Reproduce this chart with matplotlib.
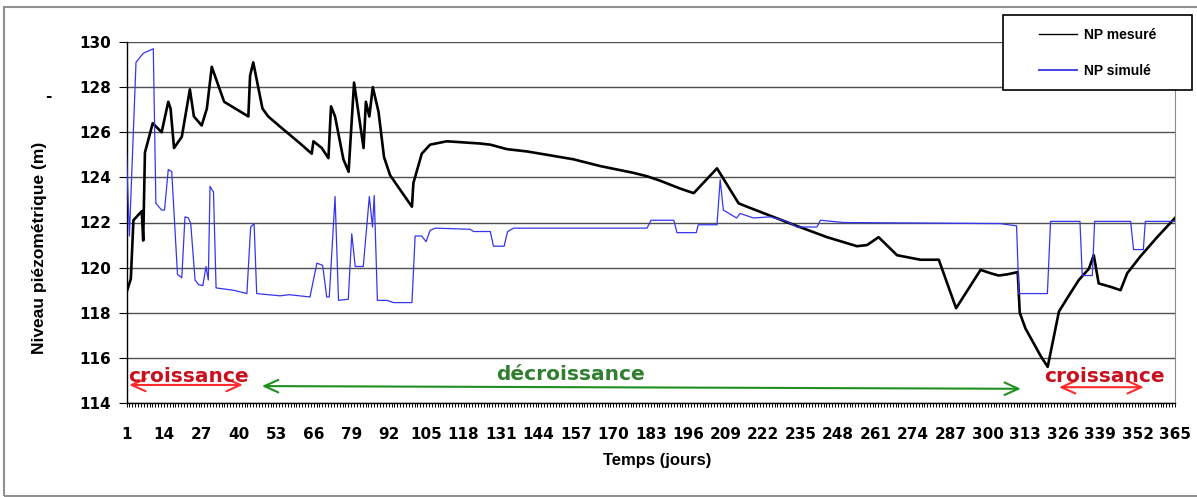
"""Niveau piézométrique mesuré vs simulé sur une année."""

import matplotlib
matplotlib.use("Agg")
import matplotlib.pyplot as plt
from matplotlib.lines import Line2D
from matplotlib.patches import Rectangle

W, H = 1197, 497

# --- data ---
days_mes = [1, 2.5, 3.4, 6.3, 6.8, 7.4, 10.1, 13.2, 15.5, 16.3,
            17.5, 20.2, 23, 24.4, 27.1, 28.9, 30.6, 31.7, 34.9, 43.3,
            43.9, 45.0, 48.2, 50.2, 54.3, 61.3, 65.3, 65.9, 68.8, 71.1,
            72.0, 73.4, 76.3, 78.1, 80.0, 83.3, 84.1, 85.3, 86.5, 88.5,
            90.4, 92.5, 96, 100.1, 100.6, 103.5, 106.4, 112.2, 123.8, 127.3,
            133.1, 140, 147, 156.2, 165.5, 177, 181.7, 186.3, 193.3, 197.9,
            206, 213.5, 216.4, 232.6, 244.2, 254.6, 258.1, 262.1, 268.5, 276.6,
            283, 289, 297.5, 301, 303.8, 306.7, 310.4, 311.1, 313.1, 318.3,
            320.8, 324.7, 327.6, 331.6, 335.1, 336.8, 338.5, 342.6, 346.1, 348.4,
            353, 358.8, 365]
np_mesure = [118.9, 119.5, 122.1, 122.5, 121.2, 125.1, 126.4, 126.0, 127.35, 127.05,
             125.3, 125.8, 127.9, 126.7, 126.3, 127.05, 128.9, 128.5, 127.35, 126.7,
             128.5, 129.1, 127.05, 126.7, 126.25, 125.5, 125.05, 125.6, 125.3, 124.85,
             127.15, 126.7, 124.8, 124.25, 128.2, 125.3, 127.35, 126.7, 128.0, 126.9,
             124.9, 124.1, 123.45, 122.7, 123.75, 125.05, 125.45, 125.6, 125.5, 125.45,
             125.25, 125.15, 125.0, 124.8, 124.5, 124.2, 124.05, 123.85, 123.5, 123.3,
             124.4, 122.85, 122.7, 121.9, 121.35, 120.95, 121.0, 121.35, 120.55, 120.35,
             120.35, 118.2, 119.9, 119.75, 119.65, 119.7, 119.8, 118.0, 117.3, 116.1,
             115.6, 118.05, 118.65, 119.45, 119.95, 120.55, 119.3, 119.15, 119.0, 119.75,
             120.5, 121.35, 122.2]

days_sim = [1, 2, 4.3, 6.8, 10.3, 11.2, 13.2, 14.2, 15.5, 16.7,
            18.7, 20.2, 21.3, 22.5, 23.3, 24.8, 26, 27.5, 28.6, 29.4,
            30, 31.2, 32.1, 38.1, 42.8, 44.1, 45.3, 46.2, 54.3, 57.5,
            64.7, 67.1, 69.1, 70.5, 71.4, 73.4, 74.6, 78.0, 79.2, 80.4,
            83.2, 85.3, 86.4, 87, 88.1, 91.4, 93.7, 100.1, 101.2, 103.5,
            105, 106.4, 108.2, 120.3, 121.5, 127.3, 128.4, 132.1, 133.3, 135.4,
            181.7, 183.1, 191, 192.1, 198.8, 199.5, 206, 207.1, 208.2, 212.8,
            214, 218.7, 224.5, 230.3, 233.8, 240.7, 241.9, 250, 304.4, 310.0,
            310.8, 320.7, 321.8, 332, 332.8, 336.3, 337.1, 349.6, 350.6, 354.0,
            354.7, 365]
np_simule = [125.1, 121.4, 129.1, 129.5, 129.7, 122.85, 122.55, 122.55, 124.35, 124.25,
             119.7, 119.55, 122.25, 122.2, 121.95, 119.45, 119.25, 119.2, 120.05, 119.45,
             123.6, 123.35, 119.1, 119.0, 118.85, 121.8, 121.95, 118.85, 118.75, 118.8,
             118.7, 120.2, 120.1, 118.7, 118.7, 123.15, 118.55, 118.6, 121.5, 120.05,
             120.05, 123.15, 121.8, 123.2, 118.55, 118.55, 118.45, 118.45, 121.4, 121.4,
             121.15, 121.65, 121.75, 121.7, 121.6, 121.6, 120.95, 120.95, 121.6, 121.75,
             121.75, 122.1, 122.1, 121.55, 121.55, 121.9, 121.9, 123.9, 122.55, 122.2,
             122.4, 122.2, 122.25, 122.05, 121.8, 121.8, 122.1, 122.0, 121.95, 121.85,
             118.85, 118.85, 122.05, 122.05, 119.65, 119.65, 122.05, 122.05, 120.8, 120.8,
             122.05, 122.05]

x_ticks = list(range(1, 366, 13))
y_ticks = list(range(114, 131, 2))

# phases: (label, start day, end day, arrow level, text day, text level)
phases = [
    ("croissance", 1.9, 41.4, 114.8, 114.8, 22.5, 114.93, "#c8101e", "#ff2a2a"),
    ("décroissance", 48.0, 311.5, 114.75, 114.63, 155.3, 115.02, "#2f7f2f", "#1f901f"),
    ("croissance", 324.7, 354.2, 114.7, 114.7, 340.5, 114.94, "#c8101e", "#ff2a2a"),
]

fig = plt.figure(figsize=(W / 100, H / 100), dpi=100)
ax = fig.add_axes([126.5 / W, 1 - 403 / H, (1175 - 126.5) / W, (403 - 42) / H])

ax.plot(days_mes, np_mesure, color="black", lw=1.9, zorder=3)
ax.plot(days_sim, np_simule, color="#3535ee", lw=0.9, zorder=4)

ax.set_xlim(1, 365)
ax.set_ylim(114, 130)
ax.set_xticks(x_ticks)
ax.set_xticks(range(1, 366), minor=True)
ax.set_yticks(y_ticks)

ax.yaxis.grid(True, color="#505050", lw=1.0)
ax.set_axisbelow(True)
ax.spines["top"].set_visible(False)
ax.spines["right"].set_color("#8a8a8a")
ax.spines["left"].set_linewidth(1.0)
ax.spines["bottom"].set_linewidth(1.0)

ax.tick_params(axis="x", which="both", direction="out", length=3, width=0.7)
ax.tick_params(axis="x", which="major", pad=14)
ax.tick_params(axis="y", direction="out", length=6, width=0.8, pad=5)
for lab in ax.get_xticklabels() + ax.get_yticklabels():
    lab.set_fontfamily("DejaVu Sans")
    lab.set_fontweight("bold")
    lab.set_fontsize(11)

for label, x0, x1, ya, yb, xt, yt, tcol, acol in phases:
    ax.annotate("", xy=(x1, yb), xytext=(x0, ya),
                arrowprops=dict(arrowstyle="<->,head_length=1.0,head_width=0.45",
                                color=acol, lw=1.5, shrinkA=0, shrinkB=0),
                zorder=5)
    ax.text(xt, yt, label, ha="center", va="baseline", color=tcol,
            fontsize=14.5, fontweight="bold", family="DejaVu Sans", zorder=6)

# axis titles
fig.text(657 / W, 1 - 460 / H, "Temps (jours)", ha="center", va="center",
         fontsize=12, fontweight="bold", family="Liberation Sans")
fig.text(40 / W, 1 - 248 / H, "Niveau piézométrique (m)", ha="center", va="center",
         rotation=90, fontsize=12.5, fontweight="bold", family="Liberation Sans")
fig.text(48 / W, 1 - 97 / H, "-", ha="center", va="center",
         fontsize=11, fontweight="bold")

# legend box
fig.add_artist(Rectangle((1003 / W, 1 - 90 / H), 189 / W, 75 / H,
                         transform=fig.transFigure, facecolor="white",
                         edgecolor="black", lw=1.2, zorder=4))
handles = [Line2D([], [], color="black", lw=1.0),
           Line2D([], [], color="#3535ee", lw=1.3)]
fig.legend(handles, ["NP mesuré", "NP simulé"], loc="center",
           bbox_to_anchor=(1097.5 / W, 1 - 53 / H), frameon=False,
           handlelength=2.75, handletextpad=0.5, labelspacing=1.55,
           prop=dict(family="Liberation Sans", weight="bold", size=10))

# outer frame of the chart
fig.add_artist(Rectangle((4 / W, 1 - 496 / H), 1.2, 489 / H,
                         transform=fig.transFigure, fill=False,
                         edgecolor="#909090", lw=1.5, zorder=1))

fig.savefig("out.png", dpi=100)
plt.close(fig)
